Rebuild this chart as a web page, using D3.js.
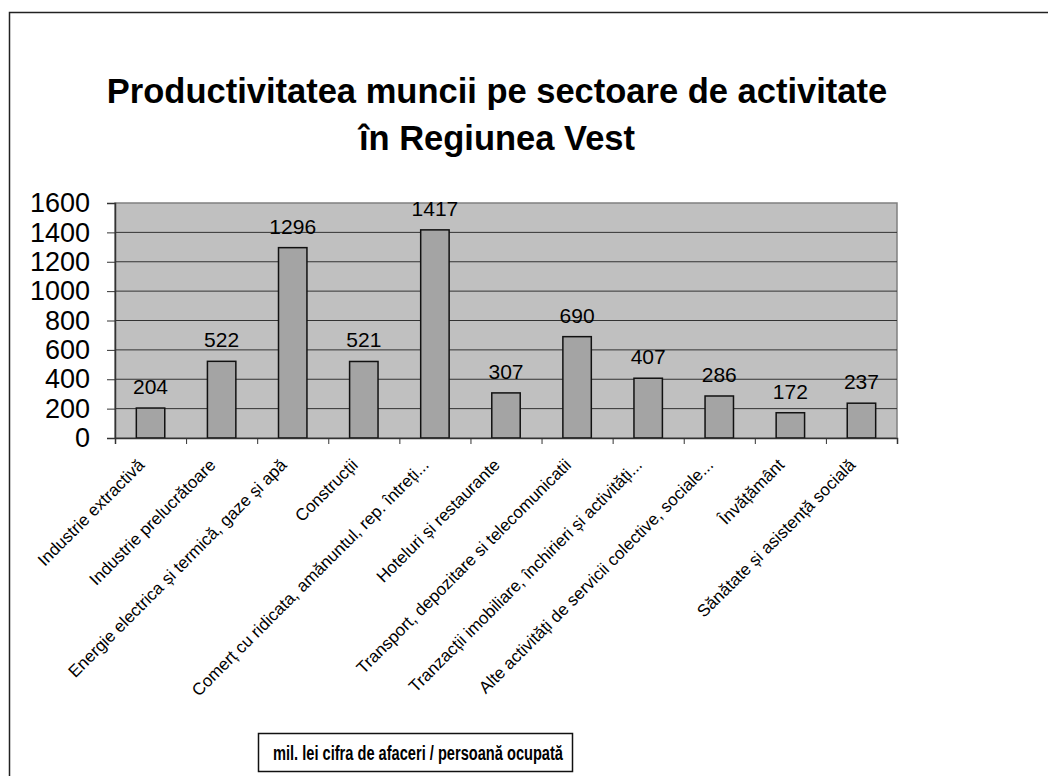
<!DOCTYPE html>
<html>
<head>
<meta charset="utf-8">
<script src="https://cdnjs.cloudflare.com/ajax/libs/d3/7.8.5/d3.min.js"></script>
<style>
  html, body { margin: 0; padding: 0; background: #fff; overflow: hidden; }
  svg { display: block; font-family: "Liberation Sans", Arial, sans-serif; }
</style>
</head>
<body>
<div id="chart"></div>
<script>
// chart data
var categories = [
    "Industrie extractivă",
    "Industrie prelucrătoare",
    "Energie electrica și termică, gaze și apă",
    "Construcții",
    "Comerț cu ridicata, amănuntul, rep. întreți...",
    "Hoteluri și restaurante",
    "Transport, depozitare si telecomunicatii",
    "Tranzacții imobiliare, închirieri și activități...",
    "Alte activități de servicii colective, sociale...",
    "Învățământ",
    "Sănătate și asistență socială"
];
var values = [204, 522, 1296, 521, 1417, 307, 690, 407, 286, 172, 237];
var yTicks = [0, 200, 400, 600, 800, 1000, 1200, 1400, 1600];
var titleLines = ["Productivitatea muncii pe sectoare de activitate", "în Regiunea Vest"];
var unitLabel = "mil. lei cifra de afaceri / persoană ocupată";

var width = 1048, height = 776;
var margin = {left: 115, right: 151, top: 203, bottom: 338};

var svg = d3.select("#chart").append("svg")
    .attr("width", width)
    .attr("height", height);

// outer frame, only top and left edges are visible
svg.append("path")
    .attr("d", "M9.5," + height + "V12.5H" + width)
    .attr("fill", "none")
    .attr("stroke", "#222")
    .attr("stroke-width", 1.5);

// title
svg.append("g").selectAll("text")
    .data(titleLines)
    .enter().append("text")
    .attr("x", 497)
    .attr("y", function (d, i) { return 103 + i * 47; })
    .attr("text-anchor", "middle")
    .attr("font-size", 34.5)
    .attr("font-weight", "bold")
    .attr("fill", "#000")
    .text(function (d) { return d; });

var x = d3.scaleBand()
    .domain(categories)
    .range([margin.left, width - margin.right])
    .paddingInner(0.6)
    .paddingOuter(0.3);

var y = d3.scaleLinear()
    .domain([0, 1600])
    .range([height - margin.bottom, margin.top]);

var plotW = width - margin.right - margin.left;
var plotH = height - margin.bottom - margin.top;

// plot background
svg.append("rect")
    .attr("x", margin.left).attr("y", margin.top)
    .attr("width", plotW).attr("height", plotH)
    .attr("fill", "#c0c0c0")
    .attr("stroke", "#808080")
    .attr("stroke-width", 1.5);

// gridlines
svg.append("g")
    .selectAll("line")
    .data(yTicks.slice(1, -1))
    .enter().append("line")
    .attr("x1", margin.left).attr("x2", width - margin.right)
    .attr("y1", function (d) { return y(d); })
    .attr("y2", function (d) { return y(d); })
    .attr("stroke", "#333")
    .attr("stroke-width", 1);

// bars
svg.append("g")
    .selectAll("rect")
    .data(values)
    .enter().append("rect")
    .attr("x", function (d, i) { return x(categories[i]); })
    .attr("y", function (d) { return y(d); })
    .attr("width", x.bandwidth())
    .attr("height", function (d) { return y(0) - y(d); })
    .attr("fill", "#a4a4a4")
    .attr("stroke", "#111")
    .attr("stroke-width", 1.5);

// value labels
svg.append("g")
    .selectAll("text")
    .data(values)
    .enter().append("text")
    .attr("x", function (d, i) { return x(categories[i]) + x.bandwidth() / 2; })
    .attr("y", function (d) { return y(d) - 14; })
    .attr("text-anchor", "middle")
    .attr("font-size", 21)
    .attr("fill", "#000")
    .text(function (d) { return d; });

// y axis
var yAxis = svg.append("g")
    .attr("transform", "translate(" + margin.left + ",0)")
    .call(d3.axisLeft(y).tickValues(yTicks).tickSize(8).tickPadding(17).tickFormat(d3.format("d")));
yAxis.select(".domain").attr("stroke", "#333").attr("stroke-width", 1.5);
yAxis.selectAll(".tick line").attr("stroke", "#333");
yAxis.selectAll(".tick text")
    .attr("font-family", "'Liberation Sans', Arial, sans-serif")
    .attr("font-size", 27)
    .attr("fill", "#000");

// x axis with ticks between categories
var xTickScale = d3.scaleLinear()
    .domain([0, categories.length])
    .range([margin.left, width - margin.right]);
var xAxis = svg.append("g")
    .attr("transform", "translate(0," + y(0) + ")")
    .call(d3.axisBottom(xTickScale).tickValues(d3.range(categories.length + 1)).tickSize(6).tickFormat(""));
xAxis.select(".domain").attr("stroke", "#333").attr("stroke-width", 1.5);
xAxis.selectAll(".tick line").attr("stroke", "#333");

// category labels
svg.append("g")
    .selectAll("text")
    .data(categories)
    .enter().append("text")
    .attr("transform", function (d) {
        var cx = x(d) + x.bandwidth() / 2;
        return "translate(" + (cx - 5) + "," + (y(0) + 28) + ") rotate(-45)";
    })
    .attr("text-anchor", "end")
    .attr("font-size", 17)
    .attr("fill", "#000")
    .text(function (d) { return d; });

// unit box
svg.append("rect")
    .attr("x", 258.5).attr("y", 733.5)
    .attr("width", 314).attr("height", 38)
    .attr("fill", "#fff")
    .attr("stroke", "#111")
    .attr("stroke-width", 1.5);
svg.append("text")
    .attr("x", 418).attr("y", 760)
    .attr("text-anchor", "middle")
    .attr("font-size", 19.5)
    .attr("font-weight", "bold")
    .attr("textLength", 290)
    .attr("lengthAdjust", "spacingAndGlyphs")
    .attr("fill", "#000")
    .text(unitLabel);
</script>
</body>
</html>
